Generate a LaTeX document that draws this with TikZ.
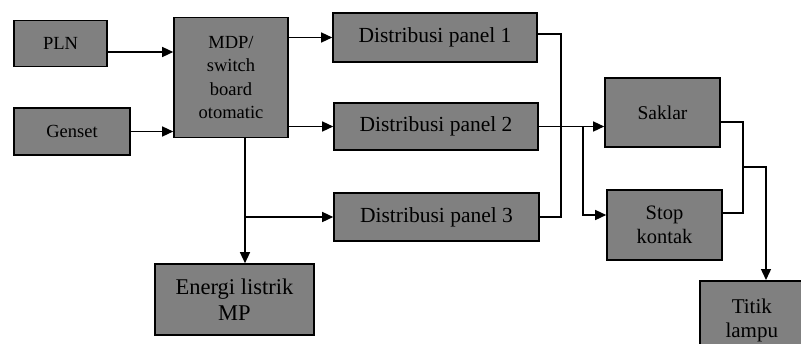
\documentclass[tikz,border=0pt]{standalone}
\usepackage{fontspec}
\setmainfont{Liberation Serif}
\usetikzlibrary{arrows.meta}
\begin{document}
\begin{tikzpicture}[x=1pt,y=-1pt,
  blk/.style={draw=black,line width=1.6pt,fill=black!50,rectangle,inner sep=1pt,align=center,
    font=\fontsize{18.5}{23.5}\selectfont,text=black},
  fs/.style 2 args={font=\fontsize{#1}{#2}\selectfont},
  conn/.style={line width=1.4pt,draw=black},
  arr/.style={conn,-{Triangle[length=11pt,width=10pt]}}]
\useasboundingbox (0,0) rectangle (801,343);
\node[blk,minimum width=93pt,minimum height=46pt] (pln) at (60.5,43.5) {PLN};
\node[blk,minimum width=116pt,minimum height=47pt] (gen) at (72,131.5) {Genset};
\node[blk,minimum width=114pt,minimum height=120pt] (mdp) at (231,77.5) {MDP/\\switch\\board\\otomatic};
\node[blk,fs={21.5}{26},minimum width=204pt,minimum height=49pt] (d1) at (435,37.5) {Distribusi panel 1};
\node[blk,fs={21.5}{26},minimum width=204pt,minimum height=47pt] (d2) at (436,126.5) {Distribusi panel 2};
\node[blk,fs={21.5}{26},minimum width=205pt,minimum height=48pt] (d3) at (436.5,217) {Distribusi panel 3};
\node[blk,fs={19.5}{24},minimum width=115pt,minimum height=69pt] (sak) at (662.5,112.5) {Saklar};
\node[blk,fs={20.5}{24},minimum width=115pt,minimum height=70pt] (stop) at (664.5,225) {Stop\\kontak};
\node[blk,fs={21}{24},minimum width=104pt,minimum height=80pt,anchor=north west] (titik) at (699,280) {Titik\\lampu};
\node[blk,fs={22.5}{26},minimum width=159pt,minimum height=71pt] (ener) at (234.5,299.5) {Energi listrik\\MP};
% inputs
\draw[arr] ([yshift=-8.5pt]pln.east) -- ([yshift=-8.5pt]pln.east -| mdp.west);
\draw[arr] (gen.east) -- (gen.east -| mdp.west);
% MDP outputs
\draw[arr] (mdp.east |- d1.west) -- (d1.west);
\draw[arr] (mdp.east |- d2.west) -- (d2.west);
\coordinate (mb) at ([xshift=14pt]mdp.south);
\draw[arr] (mb) -- (mb |- ener.north);
\coordinate (br) at (mb |- d3.west);
\draw[arr] (br) -- (d3.west);
% D1 - D3 link
\draw[conn] ([yshift=3.5pt]d1.east) -- ++(23,0) |- (d3.east);
% D2 to saklar / stop kontak
\coordinate (bus) at (583,126.5);
\draw[arr] (d2.east) -- (bus) -- (bus -| sak.west);
\draw[arr] (bus) |- ([yshift=10pt]stop.west);
% saklar / stop kontak to titik lampu
\coordinate (jr) at (743,167);
\draw[conn] ([yshift=-9.5pt]sak.east) -| (jr) |- ([yshift=12pt]stop.east);
\draw[arr] (jr) -- (766,167) -- (766,280);
\end{tikzpicture}
\end{document}
